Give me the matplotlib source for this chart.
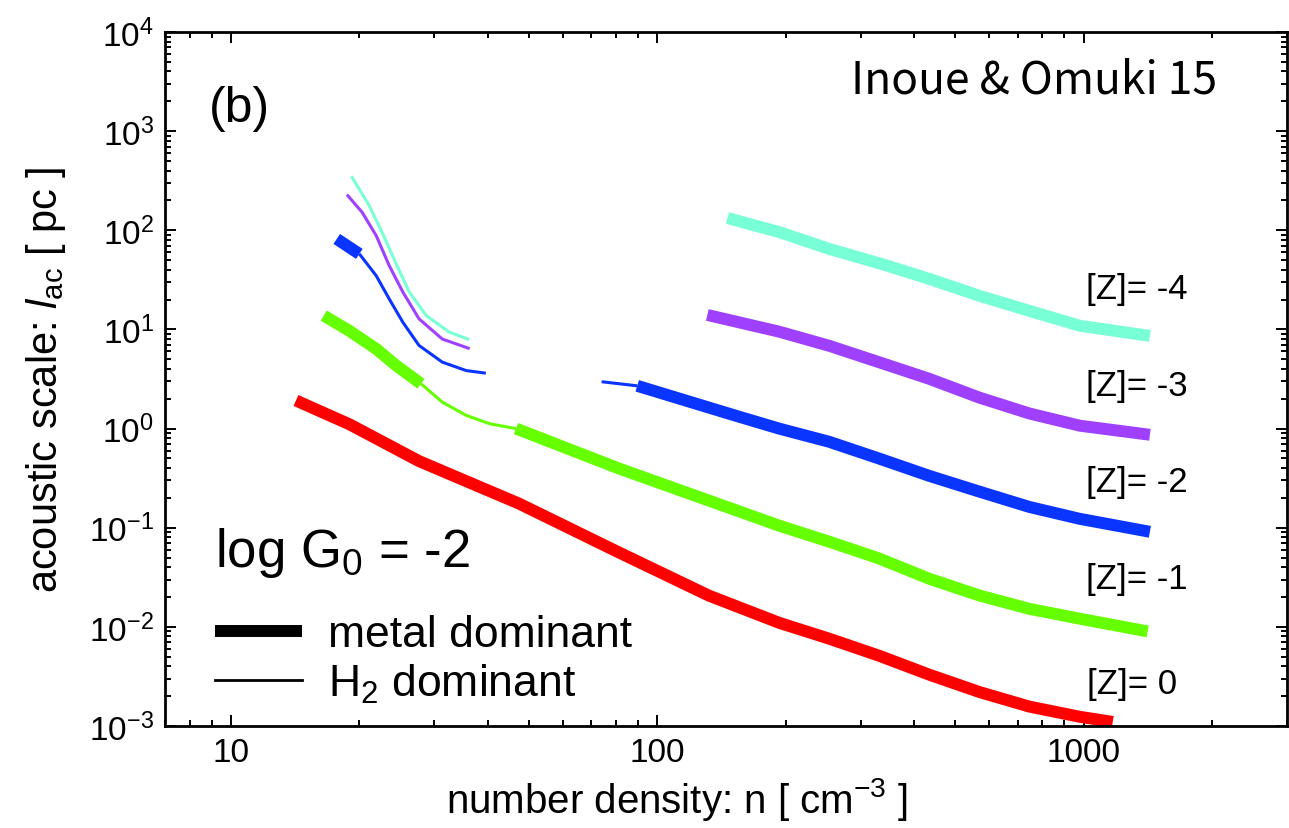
import matplotlib
matplotlib.use('Agg')
import matplotlib.pyplot as plt
from matplotlib.lines import Line2D
from matplotlib.ticker import (LogLocator, FixedLocator, FixedFormatter,
                               NullFormatter, LogFormatterSciNotation)

# [Z] = 0 (metal dominant everywhere)
n_z0 = [14.2, 19.0, 27.6, 47.4, 81.5, 132, 193, 253, 332, 434, 570, 746, 979, 1170]
l_z0 = [1.92, 1.10, 0.47, 0.175, 0.056, 0.0207, 0.011, 0.0076, 0.0051, 0.0033,
        0.0022, 0.00157, 0.00124, 0.0011]

# [Z] = -1
n_z1_metal_a = [16.5, 18.9, 21.9, 24.4, 27.9]
l_z1_metal_a = [13.8, 9.75, 6.37, 4.33, 2.83]
n_z1_h2 = [27.9, 31.3, 35.6, 40.4, 46.6]
l_z1_h2 = [2.83, 1.85, 1.36, 1.12, 1.0]
n_z1_metal_b = [46.6, 81.5, 193, 253, 332, 434, 570, 746, 979, 1413]
l_z1_metal_b = [1.0, 0.394, 0.105, 0.0723, 0.0488, 0.0306, 0.0207, 0.0152, 0.0121, 0.009]

# [Z] = -2
n_z2_metal_a = [17.7, 20.0]
l_z2_metal_a = [81.8, 57.8]
n_z2_h2_a = [20.0, 21.9, 23.5, 25.3, 27.6, 31.3, 35.6, 39.6]
l_z2_h2_a = [57.8, 34.9, 20.3, 11.8, 6.9, 4.68, 3.85, 3.62]
n_z2_h2_b = [74, 89.7]
l_z2_h2_b = [2.97, 2.70]
n_z2_metal_b = [89.7, 150, 193, 253, 332, 434, 570, 746, 979, 1430]
l_z2_metal_b = [2.70, 1.38, 1.0, 0.736, 0.497, 0.334, 0.231, 0.162, 0.123, 0.091]

# [Z] = -3
n_z3_h2 = [18.7, 20.3, 21.9, 23.5, 25.3, 27.6, 31.3, 36.3]
l_z3_h2 = [229, 152, 88.5, 44, 23.8, 12.8, 8.0, 6.4]
n_z3_metal = [131, 193, 253, 340, 434, 570, 746, 979, 1430]
l_z3_metal = [14.0, 9.5, 6.84, 4.5, 3.18, 2.05, 1.42, 1.07, 0.866]

# [Z] = -4
n_z4_h2 = [19.16, 21.1, 22.7, 24.4, 26.2, 28.7, 32.5, 36.2]
l_z4_h2 = [351, 177, 92, 45.8, 23.8, 13.8, 9.4, 7.9]
n_z4_metal = [146, 193, 253, 340, 434, 570, 746, 979, 1430]
l_z4_metal = [133, 96, 64.9, 45, 32.4, 21.8, 15.4, 10.9, 8.6]

z_labels = ['[Z]= -4', '[Z]= -3', '[Z]= -2', '[Z]= -1', '[Z]= 0']
z_label_pos = [(1330, 26), (1330, 2.7), (1330, 0.29), (1330, 0.0306), (1300, 0.0027)]

x_ticks = [10, 100, 1000]
x_tick_labels = ['10', '100', '1000']
y_ticks = [1e-3, 1e-2, 1e-1, 1e0, 1e1, 1e2, 1e3, 1e4]


def main():
    plt.rcParams['font.family'] = ['Liberation Sans', 'DejaVu Sans']
    plt.rcParams['mathtext.fontset'] = 'custom'
    plt.rcParams['mathtext.rm'] = 'Liberation Sans'
    plt.rcParams['mathtext.it'] = 'Liberation Sans:italic'
    plt.rcParams['mathtext.bf'] = 'Liberation Sans:bold'

    fig = plt.figure(figsize=(12.89, 8.29), dpi=100)
    ax = fig.add_axes([0.128, 0.123, 0.8705, 0.8372])

    thick = 8.6
    thin = 2.2
    red = '#ff0000'
    green = '#66ff00'
    blue = '#0a34ff'
    purple = '#a040ff'
    cyan = '#78ffd6'

    kw = dict(solid_capstyle='butt', solid_joinstyle='round')
    ax.plot(n_z0, l_z0, color=red, lw=thick, **kw)

    ax.plot(n_z1_metal_a, l_z1_metal_a, color=green, lw=thick, **kw)
    ax.plot(n_z1_h2, l_z1_h2, color=green, lw=thin, **kw)
    ax.plot(n_z1_metal_b, l_z1_metal_b, color=green, lw=thick, **kw)

    ax.plot(n_z2_metal_a, l_z2_metal_a, color=blue, lw=thick, **kw)
    ax.plot(n_z2_h2_a, l_z2_h2_a, color=blue, lw=thin, **kw)
    ax.plot(n_z2_h2_b, l_z2_h2_b, color=blue, lw=thin, **kw)
    ax.plot(n_z2_metal_b, l_z2_metal_b, color=blue, lw=thick, **kw)

    ax.plot(n_z3_h2, l_z3_h2, color=purple, lw=thin, **kw)
    ax.plot(n_z3_metal, l_z3_metal, color=purple, lw=thick, **kw)

    ax.plot(n_z4_h2, l_z4_h2, color=cyan, lw=thin, **kw)
    ax.plot(n_z4_metal, l_z4_metal, color=cyan, lw=thick, **kw)

    ax.set_xscale('log')
    ax.set_yscale('log')
    ax.set_xlim(7, 3000)
    ax.set_ylim(1e-3, 1e4)

    ax.xaxis.set_major_locator(FixedLocator(x_ticks))
    ax.xaxis.set_major_formatter(FixedFormatter(x_tick_labels))
    ax.xaxis.set_minor_locator(LogLocator(base=10, subs=range(2, 10)))
    ax.xaxis.set_minor_formatter(NullFormatter())
    ax.yaxis.set_major_locator(FixedLocator(y_ticks))
    ax.yaxis.set_major_formatter(LogFormatterSciNotation())
    ax.yaxis.set_minor_locator(LogLocator(base=10, subs=range(2, 10), numticks=20))
    ax.yaxis.set_minor_formatter(NullFormatter())

    ax.tick_params(which='both', direction='in', top=True, right=True, width=1.4)
    ax.tick_params(which='major', length=8, labelsize=24, pad=8)
    ax.tick_params(which='minor', length=4)
    for s in ax.spines.values():
        s.set_linewidth(2.0)

    ax.set_xlabel(r'number density: n [ cm$^{-3}$ ]', fontsize=29)
    ax.set_ylabel(r'acoustic scale: $l_{\rm ac}$ [ pc ]', fontsize=30)
    ax.xaxis.set_label_coords(0.456, -0.07)
    ax.yaxis.set_label_coords(-0.086, 0.5)

    for lab, (xp, yp) in zip(z_labels, z_label_pos):
        ax.text(xp, yp, lab, fontsize=25, ha='center', va='center')

    ax.text(0.039, 0.890, '(b)', transform=ax.transAxes, fontsize=36,
            ha='left', va='center')
    ax.text(0.9376, 0.9135, 'Inoue & Omuki 15', transform=ax.transAxes,
            fontsize=32, ha='right', va='baseline',
            family=['Noto Sans CJK JP', 'DejaVu Sans'])

    ax.text(0.0446, 0.2305, r'log G$_0$ = -2', transform=ax.transAxes,
            fontsize=38, ha='left', va='baseline')
    handles = [Line2D([], [], color='black', lw=thick, solid_capstyle='butt'),
               Line2D([], [], color='black', lw=2.0)]
    ax.legend(handles, ['metal dominant', r'H$_2$ dominant'],
              loc='lower left', bbox_to_anchor=(0.0446, 0.03), frameon=False,
              fontsize=32, handlelength=1.96, handletextpad=0.59,
              labelspacing=0.15, borderpad=0, borderaxespad=0)

    fig.savefig('out.png', dpi=100)


if __name__ == '__main__':
    main()
